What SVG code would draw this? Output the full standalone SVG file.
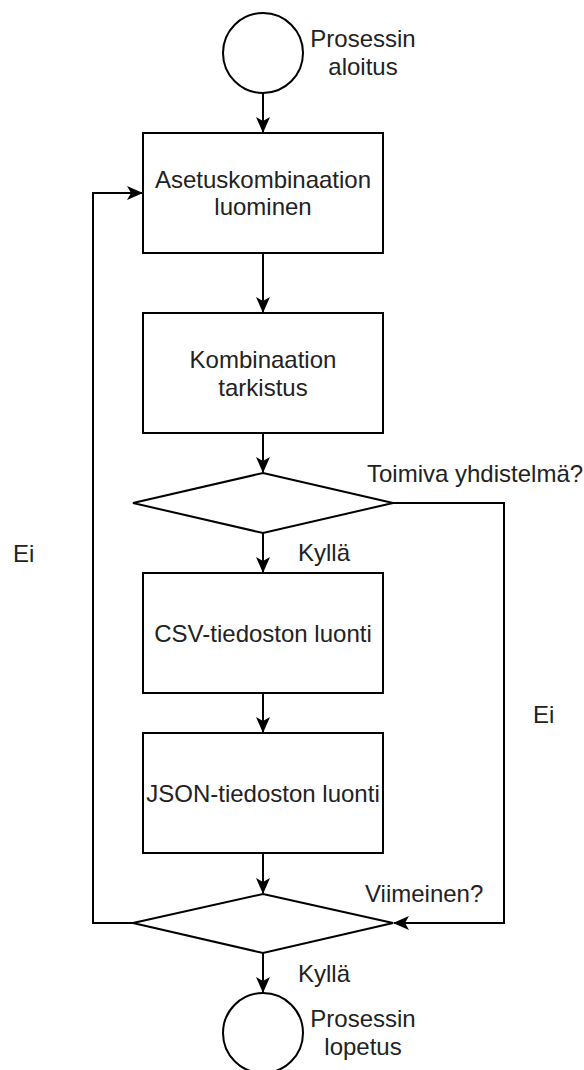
<svg xmlns="http://www.w3.org/2000/svg" width="584" height="1070" viewBox="0 0 584 1070">
  <style>
    .shape { fill: #ffffff; stroke: #000000; stroke-width: 2; }
    .edge { fill: none; stroke: #000000; stroke-width: 2; }
    text { font-family: "Liberation Sans", Arial, sans-serif; font-size: 24px; fill: #222222; }
    .c { text-anchor: middle; }
  </style>
  <defs>
    <marker id="arrow" viewBox="0 0 16 14" refX="15" refY="7" markerWidth="16" markerHeight="14" markerUnits="userSpaceOnUse" orient="auto">
      <path d="M0,0 L16,7 L0,14 L4,7 Z" fill="#000000"/>
    </marker>
  </defs>
  <rect width="584" height="1070" fill="#ffffff"/>

  <g id="connectors">
    <line class="edge" x1="263" y1="93" x2="263" y2="132" marker-end="url(#arrow)"/>
    <line class="edge" x1="263" y1="253" x2="263" y2="312" marker-end="url(#arrow)"/>
    <line class="edge" x1="263" y1="433" x2="263" y2="472" marker-end="url(#arrow)"/>
    <line class="edge" x1="263" y1="533" x2="263" y2="572" marker-end="url(#arrow)"/>
    <line class="edge" x1="263" y1="693" x2="263" y2="732" marker-end="url(#arrow)"/>
    <line class="edge" x1="263" y1="853" x2="263" y2="893" marker-end="url(#arrow)"/>
    <line class="edge" x1="263" y1="953" x2="263" y2="992" marker-end="url(#arrow)"/>
    <polyline class="edge" points="393,503 504,503 504,923 394,923" marker-end="url(#arrow)"/>
    <polyline class="edge" points="133,923 93,923 93,193 142,193" marker-end="url(#arrow)"/>
    <text x="367" y="482">Toimiva yhdistelmä?</text>
    <text x="298" y="561">Kyllä</text>
    <text x="13" y="562">Ei</text>
    <text x="533" y="723">Ei</text>
    <text x="365" y="902">Viimeinen?</text>
    <text x="298" y="982">Kyllä</text>
  </g>

  <g id="start">
    <circle class="shape" cx="263" cy="53" r="40"/>
    <text class="c" x="363" y="47">Prosessin</text>
    <text class="c" x="363" y="75">aloitus</text>
  </g>

  <g id="create-combination">
    <rect class="shape" x="143" y="133" width="240" height="120"/>
    <text class="c" x="263" y="188">Asetuskombinaation</text>
    <text class="c" x="263" y="215">luominen</text>
  </g>

  <g id="check-combination">
    <rect class="shape" x="143" y="313" width="240" height="120"/>
    <text class="c" x="263" y="368">Kombinaation</text>
    <text class="c" x="263" y="396">tarkistus</text>
  </g>

  <g id="valid-decision">
    <polygon class="shape" points="263,473 393,503 263,533 133,503"/>
  </g>

  <g id="csv-output">
    <rect class="shape" x="143" y="573" width="240" height="120"/>
    <text class="c" x="263" y="642">CSV-tiedoston luonti</text>
  </g>

  <g id="json-output">
    <rect class="shape" x="143" y="733" width="240" height="120"/>
    <text class="c" x="263" y="802">JSON-tiedoston luonti</text>
  </g>

  <g id="last-decision">
    <polygon class="shape" points="263,894 393,923 263,953 133,923"/>
  </g>

  <g id="end">
    <circle class="shape" cx="263" cy="1033" r="40"/>
    <text class="c" x="363" y="1027">Prosessin</text>
    <text class="c" x="363" y="1055">lopetus</text>
  </g>
</svg>
